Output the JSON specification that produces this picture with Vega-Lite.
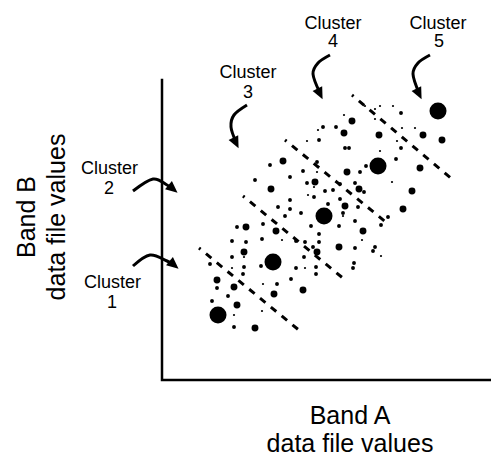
{
  "$schema": "https://vega.github.io/schema/vega-lite/v6.json",
  "width": 491,
  "height": 460,
  "autosize": "none",
  "padding": 0,
  "background": "white",
  "config": {"view": {"stroke": null}},
  "datasets": {
    "axisLine": [
      {"a": 0, "b": 300, "o": 1},
      {"a": 0, "b": 0, "o": 2},
      {"a": 328, "b": 0, "o": 3}
    ],
    "bounds": [
      {"id": 1, "a": 37, "b": 132}, {"id": 1, "a": 138, "b": 49},
      {"id": 2, "a": 81, "b": 184}, {"id": 2, "a": 182, "b": 101},
      {"id": 3, "a": 123, "b": 240}, {"id": 3, "a": 225, "b": 157},
      {"id": 4, "a": 190, "b": 285}, {"id": 4, "a": 290, "b": 201}
    ],
    "arrows": [
      {"id": 1, "o": 1, "a": -29, "b": 114}, {"id": 1, "o": 2, "a": -12, "b": 125}, {"id": 1, "o": 3, "a": 5, "b": 119}, {"id": 1, "o": 4, "a": 12, "b": 115},
      {"id": 2, "o": 1, "a": -29, "b": 189}, {"id": 2, "o": 2, "a": -9, "b": 201}, {"id": 2, "o": 3, "a": 5, "b": 195}, {"id": 2, "o": 4, "a": 11, "b": 191},
      {"id": 3, "o": 1, "a": 85, "b": 275}, {"id": 3, "o": 2, "a": 72, "b": 265}, {"id": 3, "o": 3, "a": 69, "b": 253}, {"id": 3, "o": 4, "a": 74, "b": 238},
      {"id": 4, "o": 1, "a": 168, "b": 325}, {"id": 4, "o": 2, "a": 156, "b": 317}, {"id": 4, "o": 3, "a": 151, "b": 306}, {"id": 4, "o": 4, "a": 158, "b": 287},
      {"id": 5, "o": 1, "a": 268, "b": 325}, {"id": 5, "o": 2, "a": 256, "b": 317}, {"id": 5, "o": 3, "a": 251, "b": 306}, {"id": 5, "o": 4, "a": 257, "b": 287}
    ],
    "headsSide": [
      {"id": 1, "a": 12, "b": 115},
      {"id": 2, "a": 11, "b": 191}
    ],
    "headsDown": [
      {"id": 3, "a": 74, "b": 237},
      {"id": 4, "a": 158, "b": 286},
      {"id": 5, "a": 257, "b": 286}
    ],
    "points": [
      {"a": 56, "b": 65, "s": "large"}, {"a": 111, "b": 118, "s": "large"}, {"a": 162, "b": 164, "s": "large"}, {"a": 216, "b": 214, "s": "large"}, {"a": 276, "b": 269, "s": "large"},
      {"a": 218, "b": 274, "s": "tiny"}, {"a": 231, "b": 274, "s": "tiny"}, {"a": 239, "b": 267, "s": "small"}, {"a": 203, "b": 274, "s": "tiny"},
      {"a": 213, "b": 271, "s": "tiny"}, {"a": 213, "b": 261, "s": "tiny"}, {"a": 182, "b": 265, "s": "tiny"}, {"a": 190, "b": 259, "s": "medium"},
      {"a": 161, "b": 253, "s": "small"}, {"a": 174, "b": 253, "s": "small"}, {"a": 156, "b": 250, "s": "tiny"}, {"a": 182, "b": 247, "s": "medium"},
      {"a": 145, "b": 239, "s": "tiny"}, {"a": 157, "b": 240, "s": "small"}, {"a": 183, "b": 232, "s": "small"}, {"a": 187, "b": 232, "s": "small"},
      {"a": 121, "b": 219, "s": "medium"}, {"a": 108, "b": 215, "s": "small"}, {"a": 155, "b": 218, "s": "small"}, {"a": 128, "b": 203, "s": "small"},
      {"a": 141, "b": 209, "s": "small"}, {"a": 155, "b": 208, "s": "tiny"}, {"a": 185, "b": 208, "s": "medium"}, {"a": 198, "b": 208, "s": "small"},
      {"a": 145, "b": 197, "s": "small"}, {"a": 153, "b": 198, "s": "medium"}, {"a": 152, "b": 193, "s": "tiny"}, {"a": 163, "b": 189, "s": "small"},
      {"a": 171, "b": 190, "s": "small"}, {"a": 178, "b": 196, "s": "small"}, {"a": 193, "b": 197, "s": "small"}, {"a": 197, "b": 191, "s": "medium"},
      {"a": 202, "b": 188, "s": "small"}, {"a": 146, "b": 185, "s": "tiny"}, {"a": 152, "b": 183, "s": "small"}, {"a": 128, "b": 180, "s": "small"},
      {"a": 178, "b": 181, "s": "small"}, {"a": 166, "b": 176, "s": "small"}, {"a": 183, "b": 174, "s": "medium"}, {"a": 116, "b": 173, "s": "small"},
      {"a": 128, "b": 171, "s": "small"}, {"a": 139, "b": 167, "s": "small"}, {"a": 181, "b": 167, "s": "small"}, {"a": 196, "b": 173, "s": "small"},
      {"a": 93, "b": 200, "s": "small"}, {"a": 109, "b": 191, "s": "medium"}, {"a": 123, "b": 164, "s": "small"},
      {"a": 240, "b": 252, "s": "tiny"}, {"a": 253, "b": 252, "s": "tiny"}, {"a": 217, "b": 245, "s": "medium"}, {"a": 261, "b": 245, "s": "medium"},
      {"a": 280, "b": 240, "s": "medium"}, {"a": 235, "b": 239, "s": "tiny"}, {"a": 239, "b": 232, "s": "small"}, {"a": 218, "b": 229, "s": "tiny"},
      {"a": 234, "b": 221, "s": "small"}, {"a": 204, "b": 214, "s": "small"}, {"a": 258, "b": 212, "s": "medium"}, {"a": 230, "b": 198, "s": "tiny"},
      {"a": 250, "b": 189, "s": "medium"}, {"a": 241, "b": 171, "s": "medium"}, {"a": 226, "b": 163, "s": "small"},
      {"a": 75, "b": 153, "s": "small"}, {"a": 84, "b": 153, "s": "medium"}, {"a": 101, "b": 156, "s": "small"}, {"a": 114, "b": 149, "s": "medium"},
      {"a": 70, "b": 139, "s": "small"}, {"a": 84, "b": 138, "s": "small"}, {"a": 100, "b": 141, "s": "small"}, {"a": 82, "b": 128, "s": "medium"},
      {"a": 70, "b": 123, "s": "small"}, {"a": 82, "b": 123, "s": "tiny"}, {"a": 48, "b": 116, "s": "small"}, {"a": 70, "b": 112, "s": "tiny"},
      {"a": 82, "b": 113, "s": "small"}, {"a": 99, "b": 114, "s": "small"}, {"a": 81, "b": 106, "s": "small"}, {"a": 55, "b": 100, "s": "medium"},
      {"a": 72, "b": 93, "s": "medium"}, {"a": 55, "b": 92, "s": "small"}, {"a": 66, "b": 84, "s": "small"}, {"a": 101, "b": 96, "s": "tiny"},
      {"a": 112, "b": 86, "s": "medium"}, {"a": 50, "b": 79, "s": "small"}, {"a": 75, "b": 75, "s": "medium"}, {"a": 72, "b": 65, "s": "tiny"},
      {"a": 100, "b": 69, "s": "tiny"}, {"a": 72, "b": 53, "s": "small"}, {"a": 93, "b": 52, "s": "medium"},
      {"a": 193, "b": 159, "s": "small"}, {"a": 181, "b": 164, "s": "tiny"}, {"a": 149, "b": 154, "s": "small"}, {"a": 177, "b": 154, "s": "small"},
      {"a": 201, "b": 149, "s": "medium"}, {"a": 120, "b": 140, "s": "tiny"}, {"a": 134, "b": 139, "s": "small"}, {"a": 143, "b": 138, "s": "small"},
      {"a": 157, "b": 146, "s": "small"}, {"a": 157, "b": 138, "s": "small"}, {"a": 151, "b": 133, "s": "small"}, {"a": 155, "b": 128, "s": "medium"},
      {"a": 177, "b": 133, "s": "medium"}, {"a": 193, "b": 132, "s": "small"}, {"a": 200, "b": 140, "s": "tiny"}, {"a": 142, "b": 123, "s": "small"},
      {"a": 134, "b": 112, "s": "small"}, {"a": 143, "b": 112, "s": "tiny"}, {"a": 154, "b": 113, "s": "small"}, {"a": 154, "b": 106, "s": "small"},
      {"a": 192, "b": 117, "s": "small"}, {"a": 191, "b": 112, "s": "small"}, {"a": 129, "b": 101, "s": "small"}, {"a": 115, "b": 96, "s": "small"},
      {"a": 141, "b": 90, "s": "medium"}, {"a": 219, "b": 155, "s": "small"}, {"a": 213, "b": 133, "s": "small"}, {"a": 211, "b": 129, "s": "small"},
      {"a": 219, "b": 124, "s": "tiny"}
    ],
    "labels": [
      {"a": 171, "b": 351.5, "t": "Cluster"}, {"a": 171, "b": 333, "t": "4"},
      {"a": 276, "b": 351.5, "t": "Cluster"}, {"a": 277, "b": 333, "t": "5"},
      {"a": 86, "b": 302, "t": "Cluster"}, {"a": 86, "b": 282, "t": "3"},
      {"a": -52.5, "b": 206, "t": "Cluster"}, {"a": -53, "b": 186, "t": "2"},
      {"a": -49.5, "b": 92, "t": "Cluster"}, {"a": -50, "b": 72, "t": "1"}
    ],
    "xTitle": [
      {"a": 188, "b": -44, "t": "Band A"},
      {"a": 188, "b": -72, "t": "data file values"}
    ],
    "yTitle": [
      {"a": -127, "b": 163, "t": "Band B"},
      {"a": -97, "b": 163, "t": "data file values"}
    ]
  },
  "encoding": {
    "x": {"field": "a", "type": "quantitative", "scale": {"domain": [-162, 329], "nice": false, "zero": false}, "axis": null},
    "y": {"field": "b", "type": "quantitative", "scale": {"domain": [-80, 380], "nice": false, "zero": false}, "axis": null}
  },
  "layer": [
    {
      "data": {"name": "axisLine"},
      "mark": {"type": "line", "color": "black", "strokeWidth": 2.5, "strokeCap": "square"},
      "encoding": {"order": {"field": "o", "type": "quantitative"}}
    },
    {
      "data": {"name": "bounds"},
      "mark": {"type": "line", "color": "black", "strokeWidth": 3, "strokeDash": [7, 7], "strokeDashOffset": 5, "strokeCap": "butt"},
      "encoding": {"detail": {"field": "id", "type": "nominal"}}
    },
    {
      "data": {"name": "arrows"},
      "mark": {"type": "line", "color": "black", "strokeWidth": 3, "interpolate": "cardinal"},
      "encoding": {"detail": {"field": "id", "type": "nominal"}, "order": {"field": "o", "type": "quantitative"}}
    },
    {
      "data": {"name": "headsSide"},
      "mark": {"type": "point", "filled": true, "color": "black", "opacity": 1, "size": 140, "angle": 40, "shape": "M1,0L-1,-0.9L-1,0.9Z"}
    },
    {
      "data": {"name": "headsDown"},
      "mark": {"type": "point", "filled": true, "color": "black", "opacity": 1, "size": 140, "angle": 64, "shape": "M1,0L-1,-0.9L-1,0.9Z"}
    },
    {
      "data": {"name": "points"},
      "mark": {"type": "point", "filled": true, "color": "black", "opacity": 1, "shape": "circle"},
      "encoding": {
        "size": {"field": "s", "type": "nominal", "scale": {"type": "ordinal", "domain": ["tiny", "small", "medium", "large"], "range": [5, 15, 48, 290]}, "legend": null}
      }
    },
    {
      "data": {"name": "labels"},
      "mark": {"type": "text", "font": "Liberation Sans", "fontSize": 18, "align": "center", "baseline": "alphabetic", "color": "black"},
      "encoding": {"text": {"field": "t", "type": "nominal"}}
    },
    {
      "data": {"name": "xTitle"},
      "mark": {"type": "text", "font": "Liberation Sans", "fontSize": 25, "align": "center", "baseline": "alphabetic", "color": "black"},
      "encoding": {"text": {"field": "t", "type": "nominal"}}
    },
    {
      "data": {"name": "yTitle"},
      "mark": {"type": "text", "font": "Liberation Sans", "fontSize": 25, "align": "center", "baseline": "alphabetic", "angle": 270, "color": "black"},
      "encoding": {"text": {"field": "t", "type": "nominal"}}
    }
  ]
}
